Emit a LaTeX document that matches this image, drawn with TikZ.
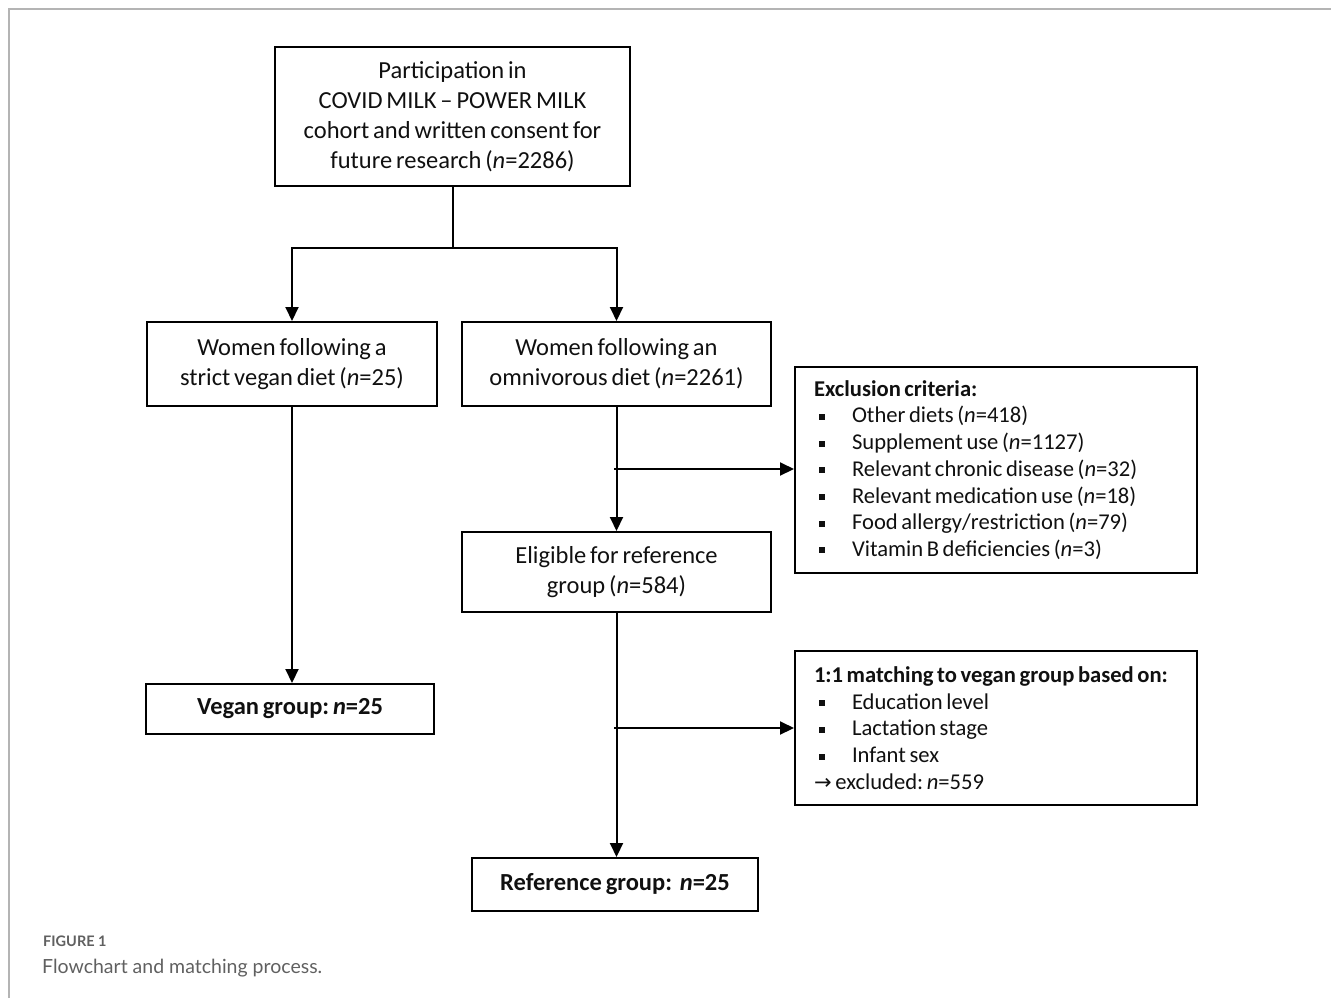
\documentclass[tikz,border=0pt]{standalone}
\usepackage{fontspec}
\setmainfont{Carlito}[WordSpace=0.7]
\newfontfamily\capfont{Lato}
\newfontfamily\symfont{DejaVu Sans}
\usetikzlibrary{arrows.meta}
\definecolor{framegray}{HTML}{B4B4B4}
\definecolor{capgray}{HTML}{606060}
\definecolor{textgray}{HTML}{101010}
\newcommand\bitem[1]{\makebox[38bp][l]{\hspace{5bp}\rule[3bp]{6bp}{6bp}}#1}
\tikzset{
  box/.style={draw=black, line width=2bp, inner sep=0pt, align=center, anchor=north west, text=textgray},
  listbox/.style={draw=black, line width=2bp, inner xsep=19bp, inner ysep=0pt, align=flush left, anchor=north west, text=textgray},
  conn/.style={line width=2bp, black},
  arr/.style={conn, -{Triangle[length=14bp,width=13bp]}},
  big/.style={font=\frenchspacing\fontsize{24.5bp}{30bp}\selectfont},
  mid/.style={font=\frenchspacing\fontsize{22.6bp}{26.7bp}\selectfont},
}
\begin{document}
\frenchspacing
\begin{tikzpicture}[x=1bp,y=-1bp]
\useasboundingbox (0,0) rectangle (1331,998);
\draw[framegray, line width=1.5bp] (9,998) -- (9,9) -- (1331,9);

\node[box,big, minimum width=355bp, minimum height=139bp] (top) at (274,46)
  {Participation in\\ COVID MILK -- POWER MILK\\ cohort and written consent for\\ future research (\textit{n}=2286)};

\node[box,big, minimum width=290bp, minimum height=84bp] (vegan) at (146,321)
  {Women following a\\ strict vegan diet (\textit{n}=25)};
\node[box,big, minimum width=309bp, minimum height=84bp] (omni) at (461,321)
  {Women following an\\ omnivorous diet (\textit{n}=2261)};

\node[listbox,mid, text width=364bp, minimum height=206bp] (excl) at (794,366)
  {\textbf{Exclusion criteria:}\\
   \bitem{Other diets (\textit{n}=418)}\\
   \bitem{Supplement use (\textit{n}=1127)}\\
   \bitem{Relevant chronic disease (\textit{n}=32)}\\
   \bitem{Relevant medication use (\textit{n}=18)}\\
   \bitem{Food allergy/restriction (\textit{n}=79)}\\
   \bitem{Vitamin B deficiencies (\textit{n}=3)}};

\node[box,big, minimum width=309bp, minimum height=80bp] (elig) at (461,531)
  {Eligible for reference\\ group (\textit{n}=584)};

\node[listbox,mid, text width=364bp, minimum height=154bp] (match) at (794,650)
  {\mbox{\textbf{1:1 matching to vegan group based on:}}\\
   \bitem{Education level}\\
   \bitem{Lactation stage}\\
   \bitem{Infant sex}\\
   {\symfont\fontsize{21bp}{20bp}\selectfont →}\,excluded: \textit{n}=559};

\node[box,big, minimum width=288bp, minimum height=50bp] (vgroup) at (145,683)
  {\textbf{Vegan group: \textit{n}=25}};
\node[box,big, minimum width=286bp, minimum height=53bp] (rgroup) at (471,857)
  {\textbf{Reference group:\ \ \textit{n}=25}};

% connectors
\coordinate (split) at (453,248);
\draw[conn] (top.south -| split) -- (split);
\draw[arr] (split) -| (vegan.north);
\draw[arr] (split) -| (omni.north);
\draw[arr] (omni.south) -- (elig.north);
\coordinate (b1) at (614,469);
\draw[arr] (b1) -- (b1 -| excl.west);
\draw[arr] (vegan.south) -- (vgroup.north -| vegan.south);
\draw[arr] (elig.south) -- (rgroup.north -| elig.south);
\coordinate (b2) at (614,728);
\draw[arr] (b2) -- (b2 -| match.west);

% caption
\node[anchor=base west, text=capgray, inner sep=0pt, font=\capfont\bfseries\fontsize{14.5bp}{16bp}\selectfont] (fig) at (43,946) {FIGURE 1};
\node[anchor=base west, text=capgray, inner sep=0pt, font=\capfont\fontsize{19.5bp}{22bp}\selectfont] (cap) at (42,973) {Flowchart and matching process.};
\end{tikzpicture}
\end{document}
